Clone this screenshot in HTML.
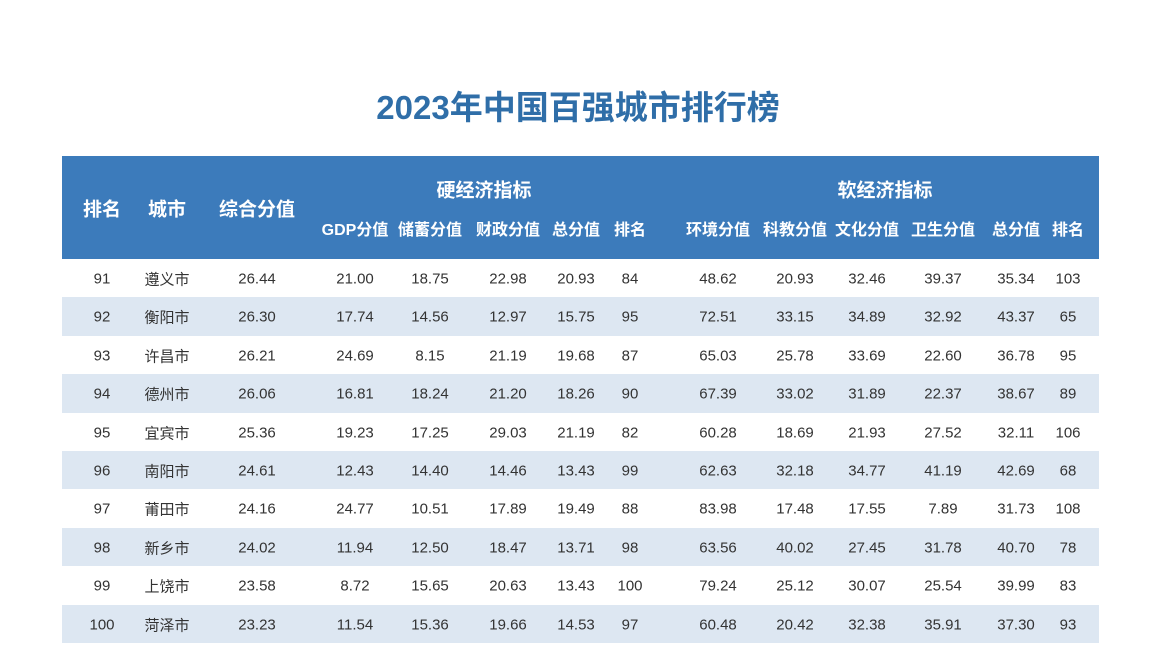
<!DOCTYPE html><html><head><meta charset="utf-8"><style>
body{margin:0;width:1156px;height:654px;background:#fff;position:relative;overflow:hidden;font-family:"Liberation Sans","Noto Sans CJK SC",sans-serif}
.t{position:absolute;transform:translate(-50%,-50%);white-space:nowrap}
.title{left:578px;top:105px;font-size:33px;font-weight:bold;color:#2f6ea8}
.hdr{position:absolute;left:62px;top:156px;width:1037px;height:103px;background:#3c7bbb}
.h{color:#fff;font-size:19px;font-weight:bold}
.s{color:#fff;font-size:16px;font-weight:bold}
.row{position:absolute;left:62px;width:1037px;height:38.4px}
.c{color:#333;font-size:15px}
</style></head><body>
<div class="t title">2023年中国百强城市排行榜</div>
<div class="hdr"></div>
<div id="r"></div>
<script>
var H=[["排名",102,208,"h"],["城市",167,208,"h"],["综合分值",257,208,"h"],["硬经济指标",484,189,"h"],["软经济指标",885,189,"h"],
["GDP分值",355,228,"s"],["储蓄分值",430,228,"s"],["财政分值",508,228,"s"],["总分值",576,228,"s"],["排名",630,228,"s"],
["环境分值",718,228,"s"],["科教分值",795,228,"s"],["文化分值",867,228,"s"],["卫生分值",943,228,"s"],["总分值",1016,228,"s"],["排名",1068,228,"s"]];
var X=[102,167,257,355,430,508,576,630,718,795,867,943,1016,1068];
var D=[["91","遵义市","26.44","21.00","18.75","22.98","20.93","84","48.62","20.93","32.46","39.37","35.34","103"],
["92","衡阳市","26.30","17.74","14.56","12.97","15.75","95","72.51","33.15","34.89","32.92","43.37","65"],
["93","许昌市","26.21","24.69","8.15","21.19","19.68","87","65.03","25.78","33.69","22.60","36.78","95"],
["94","德州市","26.06","16.81","18.24","21.20","18.26","90","67.39","33.02","31.89","22.37","38.67","89"],
["95","宜宾市","25.36","19.23","17.25","29.03","21.19","82","60.28","18.69","21.93","27.52","32.11","106"],
["96","南阳市","24.61","12.43","14.40","14.46","13.43","99","62.63","32.18","34.77","41.19","42.69","68"],
["97","莆田市","24.16","24.77","10.51","17.89","19.49","88","83.98","17.48","17.55","7.89","31.73","108"],
["98","新乡市","24.02","11.94","12.50","18.47","13.71","98","63.56","40.02","27.45","31.78","40.70","78"],
["99","上饶市","23.58","8.72","15.65","20.63","13.43","100","79.24","25.12","30.07","25.54","39.99","83"],
["100","菏泽市","23.23","11.54","15.36","19.66","14.53","97","60.48","20.42","32.38","35.91","37.30","93"]];
var o="";
H.forEach(function(h){o+='<div class="t '+h[3]+'" style="left:'+h[1]+'px;top:'+h[2]+'px">'+h[0]+'</div>';});
D.forEach(function(r,i){var y=259+i*38.4;
o+='<div class="row" style="top:'+y+'px;background:'+(i%2?'#dde7f2':'#fff')+'"></div>';
r.forEach(function(v,j){o+='<div class="t c" style="left:'+X[j]+'px;top:'+(y+20)+'px">'+v+'</div>';});});
document.getElementById("r").innerHTML=o;
</script></body></html>
